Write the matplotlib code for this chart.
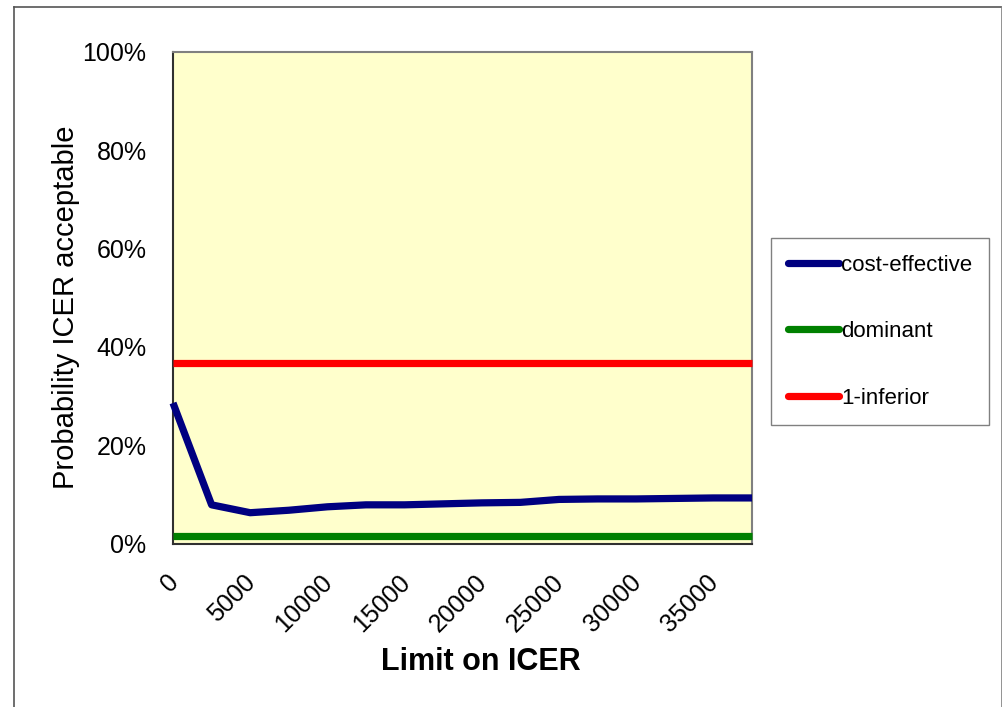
import matplotlib
matplotlib.use("Agg")
import matplotlib.pyplot as plt
from matplotlib.lines import Line2D
from matplotlib.ticker import FuncFormatter
from matplotlib.transforms import ScaledTranslation

# Willingness-to-pay limits (category axis)
icer_limits = [0, 2500, 5000, 7500, 10000, 12500, 15000, 17500,
               20000, 22500, 25000, 27500, 30000, 32500, 35000, 37500]
tick_values = [0, 5000, 10000, 15000, 20000, 25000, 30000, 35000]

# Probability curves (fractions)
cost_effective = [0.286, 0.079, 0.063, 0.068, 0.075, 0.079, 0.079, 0.081,
                  0.083, 0.084, 0.090, 0.091, 0.091, 0.092, 0.093, 0.093]
dominant = [0.016] * len(icer_limits)
one_inferior = [0.367] * len(icer_limits)

series_names = ["cost-effective", "dominant", "1-inferior"]
series_colors = ["#000080", "#008000", "#FF0000"]

plt.rcParams["font.family"] = ["Liberation Sans", "DejaVu Sans"]

W, H = 1003, 707
fig = plt.figure(figsize=(W / 100, H / 100), dpi=100)
left, right, top, bottom = 173, 752, 51.7, 543.7
ax = fig.add_axes([left / W, 1 - bottom / H, (right - left) / W, (bottom - top) / H])
ax.set_facecolor("#FFFFCC")

for vals, name, col in zip([cost_effective, dominant, one_inferior], series_names, series_colors):
    ax.plot(icer_limits, vals, color=col, lw=5.2, solid_capstyle="butt",
            solid_joinstyle="round", label=name, clip_on=False, zorder=3)

ax.set_xlim(icer_limits[0], icer_limits[-1])
ax.set_ylim(0, 1)
ax.set_yticks([0, 0.2, 0.4, 0.6, 0.8, 1.0])
ax.yaxis.set_major_formatter(FuncFormatter(lambda v, p: f"{v * 100:.0f}%"))
ax.set_xticks(tick_values)
ax.set_xticklabels([str(v) for v in tick_values], rotation=45, ha="right",
                   va="top", rotation_mode="anchor")
ax.tick_params(axis="y", length=0, pad=19, labelsize=18)
ax.tick_params(axis="x", length=0, pad=19, labelsize=18)
shift = ScaledTranslation(-7 / 100, 0, fig.dpi_scale_trans)
for lab in ax.get_xticklabels():
    lab.set_transform(lab.get_transform() + shift)

for side in ["left", "bottom"]:
    ax.spines[side].set_color("#303030")
    ax.spines[side].set_linewidth(1.5)
for side in ["right", "top"]:
    ax.spines[side].set_color("#808080")
    ax.spines[side].set_linewidth(1.5)

fig.text(66 / W, 1 - 307 / H, "Probability ICER acceptable", rotation=90,
         ha="center", va="center", fontsize=21)
fig.text(481 / W, 1 - 662 / H, "Limit on ICER", ha="center", va="center",
         fontsize=22, fontweight="bold")

leg = ax.legend(loc="upper left", bbox_to_anchor=(771 / W, 1 - 238 / H),
                bbox_transform=fig.transFigure, borderaxespad=0,
                fontsize=16, handlelength=2.3, handletextpad=0.1,
                labelspacing=2.05, borderpad=0.75, fancybox=False,
                frameon=True, framealpha=1, edgecolor="#808080")
leg.get_frame().set_linewidth(1.0)
for h in leg.get_lines():
    h.set_solid_capstyle("round")

# Chart area border
for xs, ys, c in [([14, 1002], [7, 7], "#555555"),
                  ([14, 14], [7, 707], "#555555"),
                  ([1002, 1002], [7, 707], "#808080")]:
    fig.add_artist(Line2D([x / W for x in xs], [1 - y / H for y in ys],
                          transform=fig.transFigure, color=c, lw=1.2))

fig.savefig("out.png", dpi=100, facecolor="white")
